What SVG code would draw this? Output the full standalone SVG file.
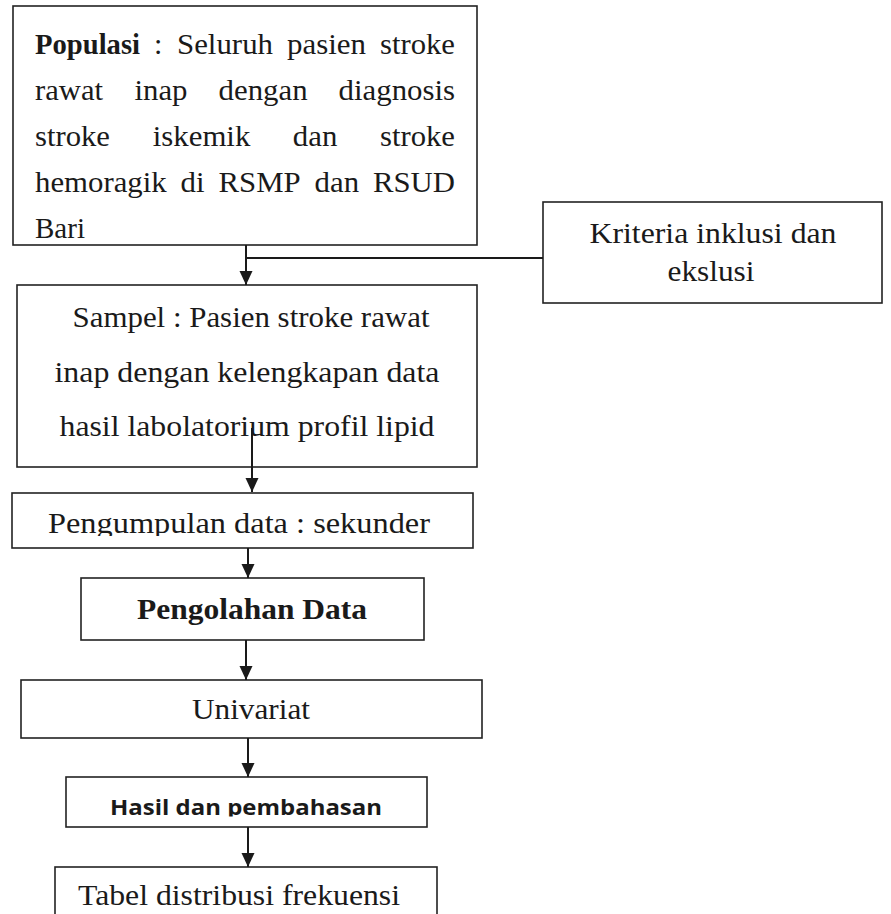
<svg xmlns="http://www.w3.org/2000/svg" width="891" height="914" viewBox="0 0 891 914">
<style>
.box{fill:#fff;stroke:#222;stroke-width:1.6}
.t{font-family:'Liberation Serif','Times New Roman',serif;font-size:30px;fill:#1a1a1a}
.b{font-weight:bold}
.s{font-family:'Open Sans','Liberation Sans',Arial,sans-serif;font-size:21px;font-weight:bold;fill:#1a1a1a}
.c{stroke:#1a1a1a;stroke-width:2;fill:none}
</style>
<defs>
<marker id="ah" markerUnits="userSpaceOnUse" markerWidth="14" markerHeight="14" refX="14" refY="6.5" orient="auto"><path d="M0,0 L14,6.5 L0,13 z" fill="#1a1a1a"/></marker>
<clipPath id="cp1"><rect x="12" y="493" width="461" height="43"/></clipPath>
<clipPath id="cp2"><rect x="66" y="777" width="361" height="39.5"/></clipPath>
</defs>
<rect width="891" height="914" fill="#fff"/>
<g id="populasi">
<rect class="box" x="13" y="6" width="464" height="239"/>
<text class="t b" x="35" y="54" textLength="105" lengthAdjust="spacingAndGlyphs">Populasi</text>
<text class="t" x="154" y="54">:</text>
<text class="t" x="177" y="54" textLength="96" lengthAdjust="spacingAndGlyphs">Seluruh</text>
<text class="t" x="287" y="54" textLength="79" lengthAdjust="spacingAndGlyphs">pasien</text>
<text class="t" x="380" y="54" textLength="75" lengthAdjust="spacingAndGlyphs">stroke</text>
<text class="t" x="35" y="100" textLength="68" lengthAdjust="spacingAndGlyphs">rawat</text>
<text class="t" x="134.5" y="100" textLength="53" lengthAdjust="spacingAndGlyphs">inap</text>
<text class="t" x="218.6" y="100" textLength="89" lengthAdjust="spacingAndGlyphs">dengan</text>
<text class="t" x="338.6" y="100" textLength="116.4" lengthAdjust="spacingAndGlyphs">diagnosis</text>
<text class="t" x="35" y="146" textLength="75" lengthAdjust="spacingAndGlyphs">stroke</text>
<text class="t" x="152.8" y="146" textLength="97.5" lengthAdjust="spacingAndGlyphs">iskemik</text>
<text class="t" x="292.8" y="146" textLength="44.5" lengthAdjust="spacingAndGlyphs">dan</text>
<text class="t" x="380" y="146" textLength="75" lengthAdjust="spacingAndGlyphs">stroke</text>
<text class="t" x="35" y="192" textLength="131.7" lengthAdjust="spacingAndGlyphs">hemoragik</text>
<text class="t" x="180.6" y="192" textLength="24" lengthAdjust="spacingAndGlyphs">di</text>
<text class="t" x="218.5" y="192" textLength="82.2" lengthAdjust="spacingAndGlyphs">RSMP</text>
<text class="t" x="314.6" y="192" textLength="44.5" lengthAdjust="spacingAndGlyphs">dan</text>
<text class="t" x="373" y="192" textLength="82" lengthAdjust="spacingAndGlyphs">RSUD</text>
<text class="t" x="35" y="238" textLength="50" lengthAdjust="spacingAndGlyphs">Bari</text>
</g>
<g id="kriteria">
<rect class="box" x="543" y="202" width="339" height="101"/>
<text class="t" x="713" y="243" text-anchor="middle" textLength="247" lengthAdjust="spacingAndGlyphs">Kriteria inklusi dan</text>
<text class="t" x="711" y="281" text-anchor="middle" textLength="87" lengthAdjust="spacingAndGlyphs">ekslusi</text>
</g>
<g id="sampel">
<rect class="box" x="17" y="285" width="460" height="182"/>
<text class="t" x="251" y="327" text-anchor="middle" textLength="357" lengthAdjust="spacingAndGlyphs">Sampel : Pasien stroke rawat</text>
<text class="t" x="247" y="382" text-anchor="middle" textLength="385" lengthAdjust="spacingAndGlyphs">inap dengan kelengkapan data</text>
<text class="t" x="247" y="436" text-anchor="middle" textLength="375" lengthAdjust="spacingAndGlyphs">hasil labolatorium profil lipid</text>
</g>
<g id="pengumpulan">
<rect class="box" x="12" y="493" width="461" height="55"/>
<text class="t" x="239" y="533" text-anchor="middle" textLength="382" lengthAdjust="spacingAndGlyphs" clip-path="url(#cp1)">Pengumpulan data : sekunder</text>
</g>
<g id="pengolahan">
<rect class="box" x="81" y="578" width="343" height="62"/>
<text class="t b" x="252" y="619" text-anchor="middle" textLength="230" lengthAdjust="spacingAndGlyphs">Pengolahan Data</text>
</g>
<g id="univariat">
<rect class="box" x="21" y="680" width="461" height="58"/>
<text class="t" x="251" y="719" text-anchor="middle" textLength="118" lengthAdjust="spacingAndGlyphs">Univariat</text>
</g>
<g id="hasil">
<rect class="box" x="66" y="777" width="361" height="50"/>
<text class="s" x="246" y="815" text-anchor="middle" textLength="272" lengthAdjust="spacingAndGlyphs" clip-path="url(#cp2)">Hasil dan pembahasan</text>
</g>
<g id="tabel">
<rect class="box" x="55" y="867" width="382" height="60"/>
<text class="t" x="239" y="905" text-anchor="middle" textLength="322" lengthAdjust="spacingAndGlyphs">Tabel distribusi frekuensi</text>
</g>
<g id="connectors">
<line class="c" x1="246" y1="245" x2="246" y2="285" marker-end="url(#ah)"/>
<line class="c" x1="246" y1="258" x2="543" y2="258"/>
<line class="c" x1="252" y1="428" x2="252" y2="492" marker-end="url(#ah)"/>
<line class="c" x1="248" y1="548" x2="248" y2="578" marker-end="url(#ah)"/>
<line class="c" x1="246" y1="640" x2="246" y2="680" marker-end="url(#ah)"/>
<line class="c" x1="248" y1="738" x2="248" y2="777" marker-end="url(#ah)"/>
<line class="c" x1="248" y1="827" x2="248" y2="867" marker-end="url(#ah)"/>
</g>
</svg>
